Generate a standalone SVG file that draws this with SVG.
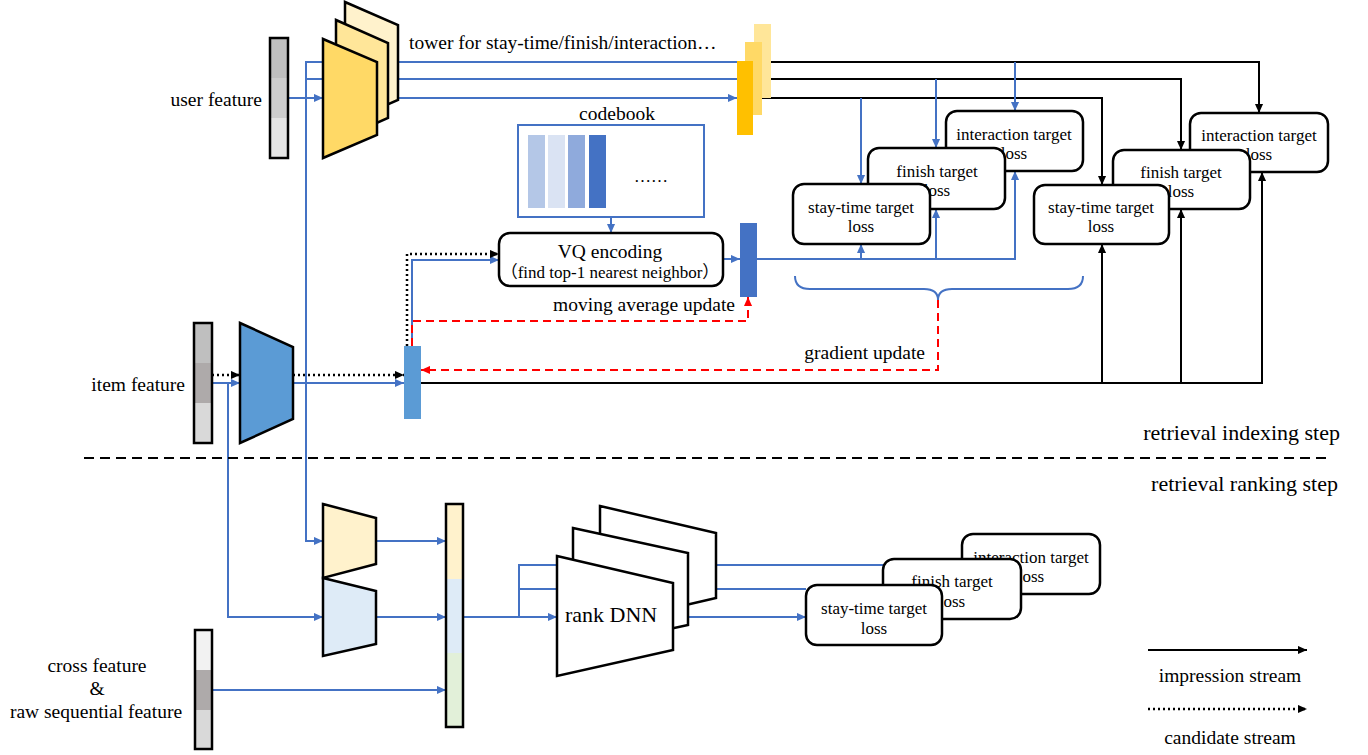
<svg xmlns="http://www.w3.org/2000/svg" width="1368" height="755" viewBox="0 0 1368 755">
  <style>
    .t { font-family: "Liberation Serif", "Times New Roman", serif; font-size: 19.5px; fill: #000; }
    .ts { font-family: "Liberation Serif", "Times New Roman", serif; font-size: 17px; fill: #000; }
    .big { font-size: 22px; }
    .cjk { font-family: "Liberation Serif", "Noto Sans CJK SC", serif; }
    .mid { text-anchor: middle; }
    .end { text-anchor: end; }
    .blue { fill: none; stroke: #4472c4; stroke-width: 2; }
    .blk { fill: none; stroke: #000; stroke-width: 2; }
    .dot { fill: none; stroke: #000; stroke-width: 2.5; stroke-dasharray: 2 3; }
    .red { fill: none; stroke: #ff0000; stroke-width: 2; stroke-dasharray: 8 5; }
    .edge { stroke: #000; stroke-width: 2.5; }
    .box { fill: #fff; stroke: #000; stroke-width: 2.5; }
  </style>
  <defs>
    <marker id="ab" viewBox="0 0 10 10" refX="10" refY="5" markerWidth="9" markerHeight="9" markerUnits="userSpaceOnUse" orient="auto">
      <path d="M0,0.5 L10,5 L0,9.5 Z" fill="#4472c4"/>
    </marker>
    <marker id="ak" viewBox="0 0 10 10" refX="10" refY="5" markerWidth="9" markerHeight="9" markerUnits="userSpaceOnUse" orient="auto">
      <path d="M0,0.5 L10,5 L0,9.5 Z" fill="#000"/>
    </marker>
    <marker id="ar" viewBox="0 0 10 10" refX="10" refY="5" markerWidth="9" markerHeight="9" markerUnits="userSpaceOnUse" orient="auto">
      <path d="M0,0.5 L10,5 L0,9.5 Z" fill="#ff0000"/>
    </marker>
  </defs>

  <rect width="1368" height="755" fill="#fff"/>

  <!-- connectors -->
  <g id="connectors">
    <!-- user feature into towers -->
    <path class="blue" d="M288,98 H323" marker-end="url(#ab)"/>
    <path class="blue" d="M323,62 H306 V541 H323" marker-end="url(#ab)"/>
    <path class="blue" d="M306,79 H323"/>
    <!-- tower outputs -->
    <path class="blue" d="M398,62 H745"/>
    <path class="blue" d="M388,79 H737"/>
    <path class="blue" d="M377,98 H737" marker-end="url(#ab)"/>
    <!-- tower outputs to loss heads -->
    <path class="blk" d="M771,62 H1259 V113" marker-end="url(#ak)"/>
    <path class="blk" d="M762,79 H1181 V150" marker-end="url(#ak)"/>
    <path class="blk" d="M753,98 H1102 V185" marker-end="url(#ak)"/>
    <path class="blue" d="M1015,62 V111" marker-end="url(#ab)"/>
    <path class="blue" d="M936,79 V148" marker-end="url(#ab)"/>
    <path class="blue" d="M861,98 V184" marker-end="url(#ab)"/>
    <!-- codebook / VQ -->
    <path class="blue" d="M611,217 V233" marker-end="url(#ab)"/>
    <path class="blue" d="M723,259 H740" marker-end="url(#ab)"/>
    <path class="blue" d="M757,259 H1015 V171" marker-end="url(#ab)"/>
    <path class="blue" d="M861,259 V244" marker-end="url(#ab)"/>
    <path class="blue" d="M936,259 V209" marker-end="url(#ab)"/>
    <!-- brace over the loss heads -->
    <path class="blue" d="M795,276 Q795,289 810,289 H924 Q938,289 938,300 Q938,289 952,289 H1068 Q1083,289 1083,276"/>
    <!-- item feature path -->
    <path class="dot" d="M212,375 H240" marker-end="url(#ak)"/>
    <path class="blue" d="M212,383 H240" marker-end="url(#ab)"/>
    <path class="blue" d="M228,383 V617 H323" marker-end="url(#ab)"/>
    <path class="dot" d="M293,375 H404" marker-end="url(#ak)"/>
    <path class="blue" d="M293,383 H404" marker-end="url(#ab)"/>
    <path class="blue" d="M412,346 V260 H499" marker-end="url(#ab)"/>
    <path class="dot" d="M407,346 V254 H499" marker-end="url(#ak)"/>
    <path class="red" d="M412,346 V321 H748 V297" marker-end="url(#ar)"/>
    <path class="red" d="M938,300 V370 H421" marker-end="url(#ar)"/>
    <path class="blk" d="M421,383 H1262 V172" stroke-width="3" marker-end="url(#ak)"/>
    <path class="blk" d="M1102,383 V244" marker-end="url(#ak)"/>
    <path class="blk" d="M1181,383 V209" marker-end="url(#ak)"/>
    <!-- ranking step -->
    <path class="blue" d="M376,541 H446" marker-end="url(#ab)"/>
    <path class="blue" d="M376,617 H446" marker-end="url(#ab)"/>
    <path class="blue" d="M212,690 H446" marker-end="url(#ab)"/>
    <path class="blue" d="M463,617 H557" marker-end="url(#ab)"/>
    <path class="blue" d="M519,617 V565 H573"/>
    <path class="blue" d="M519,589 H557"/>
    <path class="blue" d="M716,565 H962"/>
    <path class="blue" d="M688,589 H806"/>
    <path class="blue" d="M673,617 H806" marker-end="url(#ab)"/>
    <!-- legend -->
    <path class="blk" d="M1148,650 H1307" marker-end="url(#ak)"/>
    <path class="dot" d="M1148,709 H1307" marker-end="url(#ak)"/>
  </g>

  <!-- step separator -->
  <path d="M84,458 H1330" stroke="#000" stroke-width="2" stroke-dasharray="10 6" fill="none"/>

  <g id="user-feature">
    <rect x="270" y="38" width="18" height="40" fill="#bfbfbf"/>
    <rect x="270" y="78" width="18" height="40" fill="#cdcdcd"/>
    <rect x="270" y="118" width="18" height="40" fill="#e4e4e4"/>
    <rect x="270" y="38" width="18" height="120" fill="none" class="edge"/>
    <text class="t end" x="262" y="106">user feature</text>
  </g>

  <g id="user-towers">
    <polygon points="345,2 398,25 398,100 345,123" fill="#fff2cc" class="edge"/>
    <polygon points="336,20 388,43 388,118 336,141" fill="#ffe699" class="edge"/>
    <polygon points="323,39 377,62 377,135 323,158" fill="#ffd966" class="edge"/>
    <text class="t" x="409" y="49">tower for stay-time/finish/interaction…</text>
  </g>

  <g id="tower-outputs">
    <rect x="754" y="24" width="17" height="74" fill="#ffe699"/>
    <rect x="745" y="42" width="17" height="73" fill="#ffd966"/>
    <rect x="737" y="61" width="16" height="74" fill="#ffc000"/>
  </g>

  <g id="codebook">
    <text class="t mid" x="617" y="120">codebook</text>
    <rect x="518" y="125" width="186" height="92" fill="#fff" stroke="#4472c4" stroke-width="2"/>
    <rect x="528" y="135" width="17" height="73" fill="#b4c7e7"/>
    <rect x="548" y="135" width="17" height="73" fill="#dae3f3"/>
    <rect x="568" y="135" width="17" height="73" fill="#8faadc"/>
    <rect x="589" y="135" width="17" height="73" fill="#4472c4"/>
    <text class="ts" x="634" y="182">……</text>
  </g>

  <g id="vq-encoding">
    <rect x="499" y="233" width="224" height="53" rx="11" class="box"/>
    <text class="t mid" x="610" y="258">VQ encoding</text>
    <text class="ts cjk mid" x="610" y="278">（find top-1 nearest neighbor）</text>
  </g>

  <g id="vq-output">
    <rect x="740" y="223" width="17" height="74" fill="#4472c4"/>
    <text class="t end" x="735" y="311">moving average update</text>
  </g>

  <g id="gradient-label">
    <text class="t end" x="925" y="359">gradient update</text>
  </g>

  <g id="vq-losses">
    <rect x="946" y="111" width="137" height="60" rx="11" class="box"/>
    <text class="ts mid" x="1014" y="140">interaction target</text>
    <text class="ts mid" x="1014" y="159">loss</text>
    <rect x="868" y="148" width="137" height="61" rx="11" class="box"/>
    <text class="ts mid" x="937" y="177">finish target</text>
    <text class="ts mid" x="937" y="196">loss</text>
    <rect x="793" y="184" width="137" height="60" rx="11" class="box"/>
    <text class="ts mid" x="861" y="213">stay-time target</text>
    <text class="ts mid" x="861" y="232">loss</text>
  </g>

  <g id="impression-losses">
    <rect x="1190" y="113" width="138" height="59" rx="11" class="box"/>
    <text class="ts mid" x="1259" y="141">interaction target</text>
    <text class="ts mid" x="1259" y="160">loss</text>
    <rect x="1113" y="150" width="137" height="59" rx="11" class="box"/>
    <text class="ts mid" x="1181" y="178">finish target</text>
    <text class="ts mid" x="1181" y="197">loss</text>
    <rect x="1034" y="185" width="135" height="59" rx="11" class="box"/>
    <text class="ts mid" x="1101" y="213">stay-time target</text>
    <text class="ts mid" x="1101" y="232">loss</text>
  </g>

  <g id="item-feature">
    <rect x="194" y="323" width="18" height="40" fill="#bfbfbf"/>
    <rect x="194" y="363" width="18" height="40" fill="#aeaaaa"/>
    <rect x="194" y="403" width="18" height="40" fill="#d9d9d9"/>
    <rect x="194" y="323" width="18" height="120" fill="none" class="edge"/>
    <text class="t end" x="185" y="391">item feature</text>
  </g>

  <g id="item-tower">
    <polygon points="240,323 293,347 293,419 240,443" fill="#5b9bd5" class="edge"/>
  </g>

  <g id="item-embedding">
    <rect x="404" y="346" width="17" height="73" fill="#5b9bd5"/>
  </g>

  <g id="step-labels">
    <text class="t big end" x="1340" y="440">retrieval indexing step</text>
    <text class="t big end" x="1338" y="491">retrieval ranking step</text>
  </g>

  <g id="rank-user-tower">
    <polygon points="323,504 376,518 376,564 323,578" fill="#fff2cc" class="edge"/>
  </g>
  <g id="rank-item-tower">
    <polygon points="323,578 376,591 376,644 323,656" fill="#deebf7" class="edge"/>
  </g>

  <g id="cross-feature">
    <rect x="195" y="630" width="17" height="40" fill="#f2f2f2"/>
    <rect x="195" y="670" width="17" height="40" fill="#aeaaaa"/>
    <rect x="195" y="710" width="17" height="39" fill="#d9d9d9"/>
    <rect x="195" y="630" width="17" height="119" fill="none" class="edge"/>
    <text class="t mid" x="97" y="672">cross feature</text>
    <text class="t mid" x="97" y="695">&amp;</text>
    <text class="t mid" x="96" y="718">raw sequential feature</text>
  </g>

  <g id="concat">
    <rect x="446" y="504" width="17" height="75" fill="#fff2cc"/>
    <rect x="446" y="579" width="17" height="74" fill="#deebf7"/>
    <rect x="446" y="653" width="17" height="74" fill="#e2f0d9"/>
    <rect x="446" y="504" width="17" height="223" fill="none" class="edge"/>
  </g>

  <g id="rank-dnn">
    <polygon points="600,506 716,533 716,598 600,625" fill="#fff" class="edge"/>
    <polygon points="573,528 688,553 688,625 573,650" fill="#fff" class="edge"/>
    <polygon points="557,556 673,583 673,650 557,676" fill="#fff" class="edge"/>
    <text class="t big" x="565" y="622">rank DNN</text>
  </g>

  <g id="rank-losses">
    <rect x="962" y="534" width="138" height="60" rx="11" class="box"/>
    <text class="ts mid" x="1031" y="563">interaction target</text>
    <text class="ts mid" x="1031" y="582">loss</text>
    <rect x="883" y="559" width="138" height="60" rx="11" class="box"/>
    <text class="ts mid" x="952" y="587">finish target</text>
    <text class="ts mid" x="952" y="607">loss</text>
    <rect x="806" y="585" width="136" height="60" rx="11" class="box"/>
    <text class="ts mid" x="874" y="614">stay-time target</text>
    <text class="ts mid" x="874" y="634">loss</text>
  </g>

  <g id="legend">
    <text class="t mid" x="1230" y="682">impression stream</text>
    <text class="t mid" x="1230" y="744">candidate stream</text>
  </g>
</svg>
